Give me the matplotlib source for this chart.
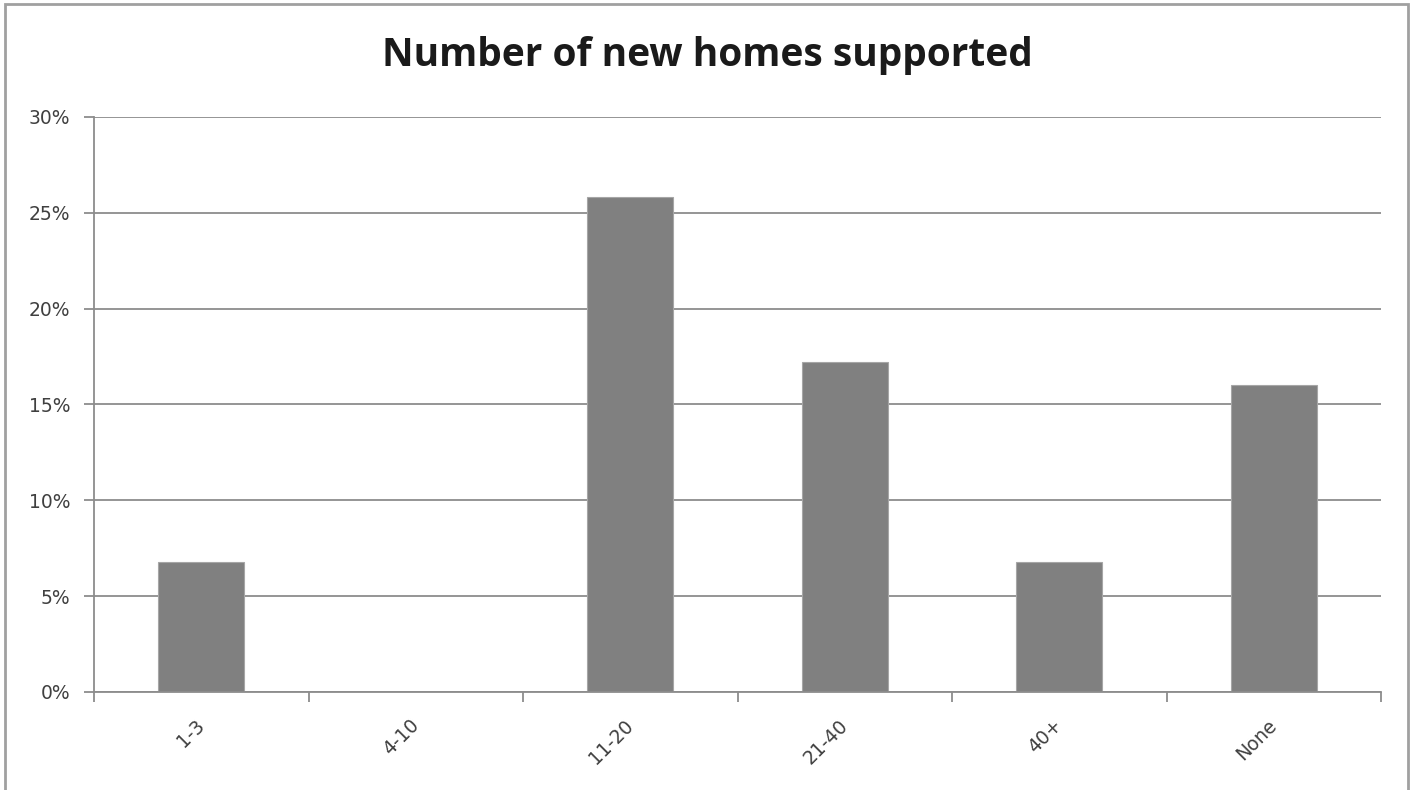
import matplotlib
matplotlib.use("Agg")
import matplotlib.pyplot as plt
from matplotlib.patches import Rectangle
from matplotlib.ticker import FuncFormatter, MultipleLocator, FixedLocator
import numpy as np

# Survey answers: share of respondents per number of new homes
categories = ["1-3", "4-10", "11-20", "21-40", "40+", "None"]
shares = [6.8, 0.0, 25.8, 17.2, 6.8, 16.0]

title = "Number of new homes supported"
grey_line = "#8c8c8c"
bar_colour = "#808080"


def main():
    fig = plt.figure(figsize=(14.16, 7.90), dpi=100)
    ax = fig.add_axes([0.0664, 0.1241, 0.9089, 0.7278])

    x = np.arange(len(categories))
    ax.bar(x, shares, width=0.4, color=bar_colour, edgecolor="#a6a6a6",
           linewidth=0.8, zorder=3)

    ax.set_xlim(-0.5, len(categories) - 0.5)
    ax.set_ylim(0, 30)
    ax.yaxis.set_major_locator(MultipleLocator(5))
    ax.yaxis.set_major_formatter(FuncFormatter(lambda v, _: f"{v:.0f}%"))
    ax.grid(axis="y", color=grey_line, linewidth=1.3, zorder=0)

    # category labels sit between boundary ticks
    ax.xaxis.set_major_locator(FixedLocator(np.arange(-0.5, len(categories))))
    ax.xaxis.set_major_formatter(plt.NullFormatter())
    ax.xaxis.set_minor_locator(FixedLocator(x))
    ax.set_xticklabels(categories, minor=True, rotation=45, ha="right",
                       va="center", rotation_mode="anchor", fontsize=13.5,
                       color="#404040")
    ax.tick_params(axis="x", which="minor", length=0, pad=22)
    ax.tick_params(axis="x", which="major", length=7, width=1.3,
                   color=grey_line)
    ax.tick_params(axis="y", length=7, width=1.3, color=grey_line,
                   labelsize=13.5, labelcolor="#404040", pad=10)

    for side in ("top", "right"):
        ax.spines[side].set_visible(False)
    for side in ("left", "bottom"):
        ax.spines[side].set_color(grey_line)
        ax.spines[side].set_linewidth(1.3)
        ax.spines[side].set_zorder(4)

    fig.text(0.4993, 0.930, title, ha="center", va="center", fontsize=28,
             fontweight="bold", family="Open Sans", color="#1a1a1a")

    # chart frame
    fig.patches.append(Rectangle((5 / 1416, -0.05), 1403 / 1416, 1.05 - 4 / 790,
                                 transform=fig.transFigure, fill=False,
                                 edgecolor="#a0a0a0", linewidth=2))

    fig.savefig("out.png", dpi=100, facecolor="white")


if __name__ == "__main__":
    main()
